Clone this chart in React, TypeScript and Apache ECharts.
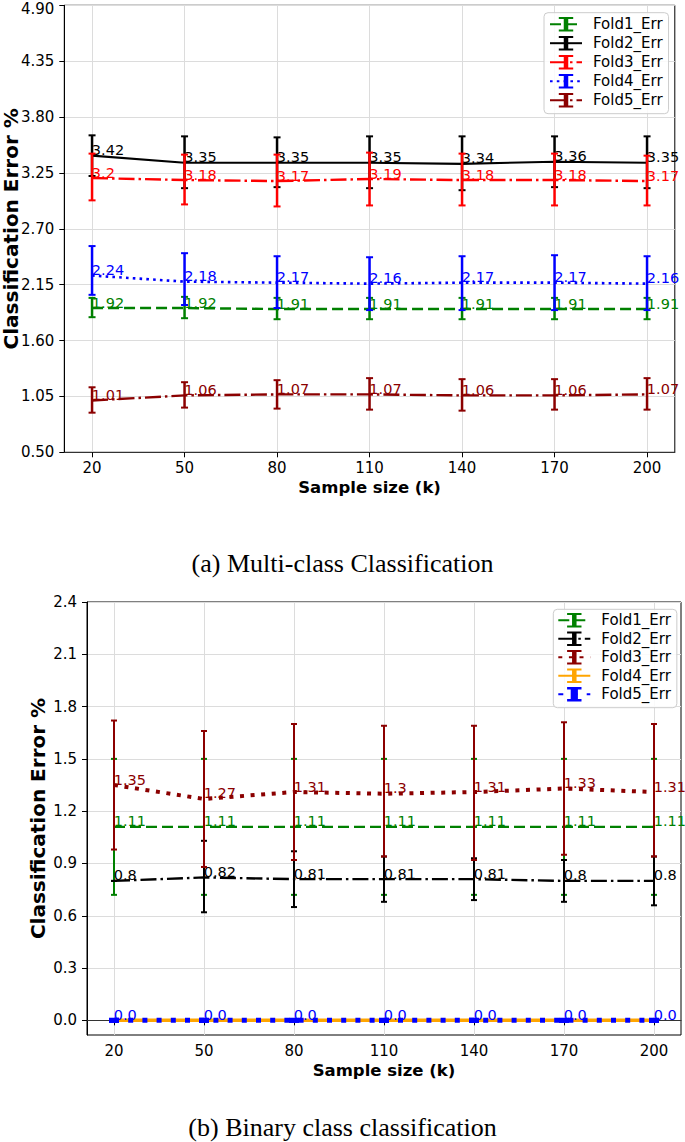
import React, { useEffect, useRef } from 'react';
import * as echarts from 'echarts';

// ---------- shared ----------
const sampleSizes = [20, 50, 80, 110, 140, 170, 200];
const foldNames = ['Fold1_Err', 'Fold2_Err', 'Fold3_Err', 'Fold4_Err', 'Fold5_Err'];

// ---------- (a) Multi-class classification ----------
const multiTicks = [0.5, 1.05, 1.6, 2.15, 2.7, 3.25, 3.8, 4.35, 4.9];
const multiFold1 = [1.92, 1.92, 1.91, 1.91, 1.91, 1.91, 1.91];
const multiFold1Low = [1.83, 1.82, 1.81, 1.81, 1.81, 1.81, 1.81];
const multiFold1High = [2.02, 2.03, 2.02, 2.02, 2.02, 2.02, 2.02];
const multiFold2 = [3.42, 3.35, 3.35, 3.35, 3.34, 3.36, 3.35];
const multiFold2Low = [3.22, 3.1, 3.11, 3.1, 3.08, 3.11, 3.1];
const multiFold2High = [3.62, 3.61, 3.6, 3.61, 3.61, 3.61, 3.61];
const multiFold3 = [3.2, 3.18, 3.17, 3.19, 3.18, 3.18, 3.17];
const multiFold3Low = [2.98, 2.94, 2.92, 2.93, 2.93, 2.93, 2.93];
const multiFold3High = [3.44, 3.43, 3.43, 3.45, 3.44, 3.44, 3.42];
const multiFold4 = [2.24, 2.18, 2.17, 2.16, 2.17, 2.17, 2.16];
const multiFold4Low = [2.05, 1.95, 1.92, 1.9, 1.9, 1.9, 1.9];
const multiFold4High = [2.53, 2.46, 2.43, 2.42, 2.43, 2.44, 2.43];
const multiFold5 = [1.01, 1.06, 1.07, 1.07, 1.06, 1.06, 1.07];
const multiFold5Low = [0.89, 0.94, 0.93, 0.92, 0.91, 0.92, 0.92];
const multiFold5High = [1.14, 1.19, 1.21, 1.23, 1.22, 1.22, 1.23];

// ---------- (b) Binary class classification ----------
const binaryTicks = [0, 0.3, 0.6, 0.9, 1.2, 1.5, 1.8, 2.1, 2.4];
const binaryFold1 = [1.11, 1.11, 1.11, 1.11, 1.11, 1.11, 1.11];
const binaryFold1Low = [0.72, 0.72, 0.72, 0.72, 0.72, 0.72, 0.72];
const binaryFold1High = [1.5, 1.5, 1.5, 1.5, 1.5, 1.5, 1.5];
const binaryFold2 = [0.8, 0.82, 0.81, 0.81, 0.81, 0.8, 0.8];
const binaryFold2Low = [0.8, 0.62, 0.65, 0.68, 0.69, 0.68, 0.66];
const binaryFold2High = [0.8, 1.03, 0.97, 0.94, 0.93, 0.92, 0.94];
const binaryFold3 = [1.35, 1.27, 1.31, 1.3, 1.31, 1.33, 1.31];
const binaryFold3Low = [0.98, 0.88, 0.92, 0.94, 0.92, 0.95, 0.94];
const binaryFold3High = [1.72, 1.66, 1.7, 1.69, 1.69, 1.71, 1.7];
const binaryFold4 = [0, 0, 0, 0, 0, 0, 0];
const binaryFold5 = [0, 0, 0, 0, 0, 0, 0];

const FONT = 'DejaVu Sans';
const I_GLYPH = 'path://M0,0H8V2.5H5.25V15.5H8V18H0V15.5H2.75V2.5H0Z';
const I_THICK = 'path://M0,0H10V3.5H7.5V17.5H10V21H0V17.5H2.5V3.5H0Z';

const fmt = (v: number) => (Number.isInteger(v) ? v.toFixed(1) : String(v));

type FoldCfg = {
  name: string;
  values: number[];
  low: number[];
  high: number[];
  color: string;
  width: number;
  dash: any;
  errWidth: number;
  cap: number;
  capWidth: number;
  glyph: string;
  showLabel: boolean;
};

function foldSeries(f: FoldCfg, idx: number) {
  const err = {
    type: 'custom',
    name: f.name + '_bars',
    z: 2 + idx,
    silent: true,
    data: sampleSizes.map((x, i) => [x, f.low[i], f.high[i]]),
    encode: { x: 0, y: [1, 2] },
    renderItem: (_params: any, api: any) => {
      const x = api.value(0);
      const a = api.coord([x, api.value(1)]);
      const b = api.coord([x, api.value(2)]);
      const st = { stroke: f.color, lineWidth: f.errWidth, fill: 'none' };
      const cs = { stroke: f.color, lineWidth: f.capWidth, fill: 'none' };
      return {
        type: 'group',
        children: [
          { type: 'line', shape: { x1: a[0], y1: a[1], x2: b[0], y2: b[1] }, style: st },
          { type: 'line', shape: { x1: a[0] - f.cap, y1: a[1], x2: a[0] + f.cap, y2: a[1] }, style: cs },
          { type: 'line', shape: { x1: b[0] - f.cap, y1: b[1], x2: b[0] + f.cap, y2: b[1] }, style: cs },
        ],
      };
    },
  };
  const line = {
    type: 'line',
    name: f.name,
    z: 2 + idx,
    data: sampleSizes.map((x, i) => [x, f.values[i]]),
    symbol: f.glyph,
    symbolSize: 1,
    symbolKeepAspect: true,
    showSymbol: true,
    itemStyle: { color: f.color },
    lineStyle: { color: f.color, width: f.width, type: f.dash, cap: 'butt' },
    label: {
      show: f.showLabel,
      position: [0, 0],
      offset: [0, 2.5],
      align: 'left',
      verticalAlign: 'bottom',
      color: f.color,
      fontSize: 14.5,
      fontFamily: FONT,
      formatter: (p: any) => fmt(p.value[1]),
    },
    emphasis: { disabled: true },
  };
  return [err, line];
}

function buildOption(p: {
  grid: any;
  yMin: number;
  yMax: number;
  ticks: number[];
  tickFmt: (v: number) => string;
  edgeTick: number | null;
  yNameGap: number;
  folds: FoldCfg[];
  legend: any;
  caption: string;
  captionY: number;
}) {
  const series: any[] = [];
  p.folds.forEach((f, i) => series.push(...foldSeries(f, i)));
  return {
    animation: false,
    grid: {
      ...p.grid,
      show: true,
      borderColor: '#000',
      borderWidth: 1,
      containLabel: false,
      outerBoundsMode: 'none',
    },
    xAxis: {
      type: 'value',
      min: 11,
      max: 209,
      name: 'Sample size (k)',
      nameLocation: 'middle',
      nameGap: 27,
      nameMoveOverlap: false,
      nameTextStyle: { fontFamily: FONT, fontWeight: 'bold', fontSize: 16.5, color: '#000' },
      axisLine: { show: true, lineStyle: { color: '#333', width: 1.2 } },
      axisTick: { show: true, length: 5, customValues: sampleSizes, lineStyle: { color: '#000' } },
      axisLabel: { customValues: sampleSizes, fontFamily: FONT, fontSize: 15, color: '#000', margin: 8 },
      splitLine: { show: true, lineStyle: { color: '#dcdcdc', width: 1 } },
    },
    yAxis: {
      type: 'value',
      min: p.yMin,
      max: p.yMax,
      name: 'Classification Error %',
      nameLocation: 'middle',
      nameGap: p.yNameGap,
      nameMoveOverlap: false,
      nameTextStyle: { fontFamily: FONT, fontWeight: 'bold', fontSize: 20, color: '#000' },
      axisLine: { show: true, lineStyle: { color: '#000', width: 1 } },
      axisTick: { show: true, length: 5, customValues: p.ticks, lineStyle: { color: '#000' } },
      axisLabel: {
        customValues: p.ticks,
        fontFamily: FONT,
        fontSize: 15,
        lineHeight: 10,
        color: '#000',
        margin: 10,
        formatter: (v: number) =>
          p.edgeTick !== null && Math.abs(v - p.edgeTick) < 1e-9
            ? '{edge|' + p.tickFmt(v) + '}'
            : p.tickFmt(v),
        rich: {
          edge: {
            fontFamily: FONT,
            fontSize: 15,
            color: '#000',
            lineHeight: 10,
            padding: [8, 0, 0, 0],
          },
        },
      },
      splitLine: { show: true, lineStyle: { color: '#dcdcdc', width: 1 } },
    },
    legend: {
      orient: 'vertical',
      selectedMode: false,
      itemWidth: 32,
      itemHeight: 18,
      backgroundColor: 'rgba(255,255,255,0.85)',
      borderColor: '#cccccc',
      borderWidth: 1,
      borderRadius: 4,
      textStyle: { fontFamily: FONT, fontSize: 15, color: '#000', padding: [0, 0, 0, 6] },
      data: p.folds.map((f) => f.name),
      ...p.legend,
    },
    graphic: [
      {
        type: 'text',
        x: 342.5,
        y: p.captionY,
        style: {
          text: p.caption,
          textAlign: 'center',
          textVerticalAlign: 'middle',
          font: '26px "Liberation Serif"',
          fill: '#000',
        },
      },
    ],
    series,
  };
}

const DASHED = [11, 5];
const DASHDOT = [16, 4, 2.5, 4];

const multiFolds: FoldCfg[] = [
  { name: foldNames[0], values: multiFold1, low: multiFold1Low, high: multiFold1High, color: '#008000', width: 2.4, dash: DASHED, errWidth: 2.5, cap: 3.5, capWidth: 2, glyph: I_GLYPH, showLabel: true },
  { name: foldNames[1], values: multiFold2, low: multiFold2Low, high: multiFold2High, color: '#000000', width: 2.2, dash: 'solid', errWidth: 2.5, cap: 3.5, capWidth: 2, glyph: I_GLYPH, showLabel: true },
  { name: foldNames[2], values: multiFold3, low: multiFold3Low, high: multiFold3High, color: '#ff0000', width: 2.4, dash: DASHDOT, errWidth: 2.5, cap: 3.5, capWidth: 2, glyph: I_GLYPH, showLabel: true },
  { name: foldNames[3], values: multiFold4, low: multiFold4Low, high: multiFold4High, color: '#0000ff', width: 2.6, dash: [2.6, 4.2], errWidth: 2.5, cap: 3.5, capWidth: 2, glyph: I_GLYPH, showLabel: true },
  { name: foldNames[4], values: multiFold5, low: multiFold5Low, high: multiFold5High, color: '#8b0000', width: 2.4, dash: DASHDOT, errWidth: 2.5, cap: 3.5, capWidth: 2, glyph: I_GLYPH, showLabel: true },
];

const binaryFolds: FoldCfg[] = [
  { name: foldNames[0], values: binaryFold1, low: binaryFold1Low, high: binaryFold1High, color: '#008000', width: 2.4, dash: DASHED, errWidth: 2, cap: 3, capWidth: 2, glyph: I_GLYPH, showLabel: true },
  { name: foldNames[1], values: binaryFold2, low: binaryFold2Low, high: binaryFold2High, color: '#000000', width: 2.4, dash: DASHDOT, errWidth: 2, cap: 3, capWidth: 2, glyph: I_GLYPH, showLabel: true },
  { name: foldNames[2], values: binaryFold3, low: binaryFold3Low, high: binaryFold3High, color: '#8b0000', width: 4, dash: [4, 6.6], errWidth: 2, cap: 3, capWidth: 2, glyph: I_GLYPH, showLabel: true },
  { name: foldNames[3], values: binaryFold4, low: binaryFold4, high: binaryFold4, color: '#ffa500', width: 3.5, dash: 'solid', errWidth: 2, cap: 4, capWidth: 2, glyph: I_GLYPH, showLabel: false },
  { name: foldNames[4], values: binaryFold5, low: binaryFold5, high: binaryFold5, color: '#0000ff', width: 5, dash: [5, 9.2], errWidth: 4, cap: 5, capWidth: 5, glyph: I_THICK, showLabel: true },
];

const optionA = buildOption({
  grid: { left: 64.3, top: 5.3, width: 610.5, height: 447 },
  yMin: 0.5,
  yMax: 4.9,
  ticks: multiTicks,
  tickFmt: (v) => v.toFixed(2),
  edgeTick: 4.9,
  yNameGap: 43,
  folds: multiFolds,
  legend: { left: 544, top: 12.7, itemGap: 4, padding: [4, 6, 6, 5] },
  caption: '(a) Multi-class Classification',
  captionY: 563,
});

const optionB = buildOption({
  grid: { left: 87, top: 12, width: 594, height: 433 },
  yMin: -0.084,
  yMax: 2.4,
  ticks: binaryTicks,
  tickFmt: (v) => v.toFixed(1),
  edgeTick: null,
  yNameGap: 39,
  folds: binaryFolds,
  legend: { left: 553.3, top: 19.3, itemGap: 3.5, padding: [3.4, 6, 6, 4] },
  caption: '(b) Binary class classification',
  captionY: 537,
});

function Chart({ option, top, height }: { option: any; top: number; height: number }) {
  const ref = useRef<HTMLDivElement>(null);
  useEffect(() => {
    if (!ref.current) return;
    const chart = echarts.init(ref.current, null, { renderer: 'svg' });
    chart.setOption(option);
    return () => chart.dispose();
  }, [option]);
  return (
    <div
      ref={ref}
      style={{ position: 'absolute', left: 0, top, width: 685, height }}
    />
  );
}

export default function App() {
  return (
    <div style={{ position: 'absolute', left: 0, top: 0, width: 685, height: 1142, background: '#fff' }}>
      <Chart option={optionA} top={0} height={590} />
      <Chart option={optionB} top={590} height={552} />
    </div>
  );
}
